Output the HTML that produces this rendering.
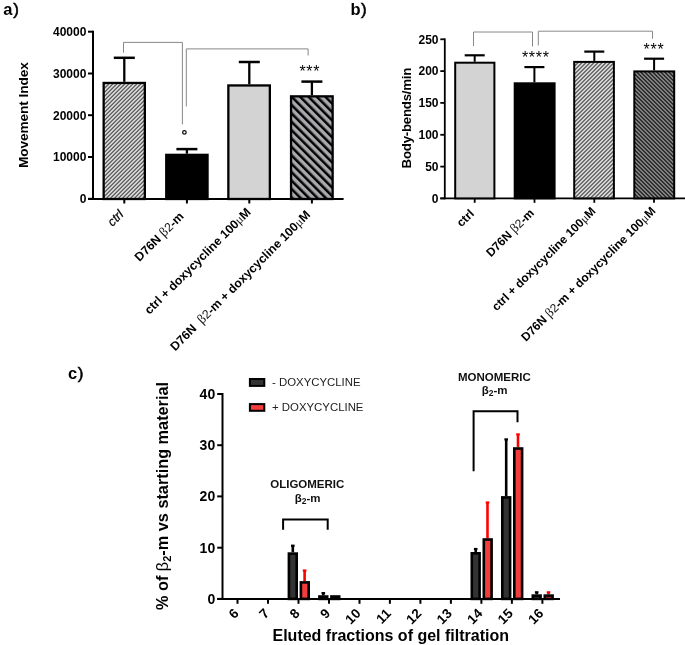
<!DOCTYPE html><html><head><meta charset="utf-8"><style>html,body{margin:0;padding:0;background:#fff;}svg{display:block;will-change:transform;}</style></head><body>
<svg width="685" height="645" viewBox="0 0 685 645" font-family='"Liberation Sans", sans-serif'>
<defs>
<pattern id="hL" patternUnits="userSpaceOnUse" width="2.828" height="10" patternTransform="rotate(45)"><rect width="2.828" height="10" fill="#e2e2e2"/><rect width="1.1" height="10" fill="#363636"/></pattern>
<pattern id="hW" patternUnits="userSpaceOnUse" width="5.94" height="10" patternTransform="rotate(-45)"><rect width="5.94" height="10" fill="#a9a9ad"/><rect width="2.5" height="10" fill="#000"/></pattern>
<pattern id="hD" patternUnits="userSpaceOnUse" width="2.828" height="10" patternTransform="rotate(-45)"><rect width="2.828" height="10" fill="#8c8c8c"/><rect width="1.1" height="10" fill="#000"/></pattern>
</defs>
<rect width="685" height="645" fill="#fff"/>
<text x="3.2" y="14.8" font-size="16.5" font-weight="bold">a<tspan font-weight="normal" font-size="17" dx="0.9" dy="0.5" stroke="#000" stroke-width="0.55">)</tspan></text>
<g stroke="#000" stroke-width="2" fill="none">
<line x1="93" y1="30.7" x2="93" y2="200"/>
<line x1="88" y1="31.7" x2="93" y2="31.7"/>
<line x1="88" y1="73.5" x2="93" y2="73.5"/>
<line x1="88" y1="115.2" x2="93" y2="115.2"/>
<line x1="88" y1="157.0" x2="93" y2="157.0"/>
<line x1="88" y1="198.8" x2="93" y2="198.8"/>
<line x1="88" y1="199" x2="343.6" y2="199"/>
<line x1="124.3" y1="199" x2="124.3" y2="203.5"/>
<line x1="186.9" y1="199" x2="186.9" y2="203.5"/>
<line x1="249.3" y1="199" x2="249.3" y2="203.5"/>
<line x1="311.9" y1="199" x2="311.9" y2="203.5"/>
</g>
<text x="86.4" y="36.0" font-size="12" font-weight="bold" text-anchor="end">40000</text>
<text x="86.4" y="77.8" font-size="12" font-weight="bold" text-anchor="end">30000</text>
<text x="86.4" y="119.5" font-size="12" font-weight="bold" text-anchor="end">20000</text>
<text x="86.4" y="161.3" font-size="12" font-weight="bold" text-anchor="end">10000</text>
<text x="86.4" y="203.1" font-size="12" font-weight="bold" text-anchor="end">0</text>
<text transform="translate(27.9,115.1) rotate(-90)" font-size="13.7" textLength="106" lengthAdjust="spacing" font-weight="bold" text-anchor="middle">Movement Index</text>
<line x1="124.3" y1="81.8" x2="124.3" y2="57.8" stroke="#000" stroke-width="2.3"/>
<line x1="113.8" y1="57.8" x2="134.8" y2="57.8" stroke="#000" stroke-width="2.5"/>
<rect x="103.65" y="82.95" width="41.2" height="116.05" fill="url(#hL)" stroke="#000" stroke-width="2.3"/>
<line x1="186.9" y1="153.7" x2="186.9" y2="149.1" stroke="#000" stroke-width="2.3"/>
<line x1="176.4" y1="149.1" x2="197.4" y2="149.1" stroke="#000" stroke-width="2.5"/>
<rect x="166.25" y="154.85" width="41.3" height="44.15000000000001" fill="#000" stroke="#000" stroke-width="2.3"/>
<line x1="249.3" y1="84.3" x2="249.3" y2="62.0" stroke="#000" stroke-width="2.3"/>
<line x1="238.8" y1="62.0" x2="259.8" y2="62.0" stroke="#000" stroke-width="2.5"/>
<rect x="228.35" y="85.45" width="41.500000000000014" height="113.55" fill="#d3d3d3" stroke="#000" stroke-width="2.3"/>
<line x1="311.9" y1="95.2" x2="311.9" y2="81.6" stroke="#000" stroke-width="2.3"/>
<line x1="301.4" y1="81.6" x2="322.4" y2="81.6" stroke="#000" stroke-width="2.5"/>
<rect x="291.04999999999995" y="96.35000000000001" width="41.60000000000004" height="102.64999999999999" fill="url(#hW)" stroke="#000" stroke-width="2.3"/>
<g stroke="#888" stroke-width="1" fill="none">
<path d="M123.5 52.8 V42.4 H182.4 V124.4"/>
<path d="M186.3 106.5 V48.9 H308.1 V55.5"/>
</g>
<circle cx="184.4" cy="132.4" r="1.75" fill="none" stroke="#111" stroke-width="1.3"/>
<text x="309.8" y="77.4" font-size="16" text-anchor="middle" letter-spacing="0.7">***</text>
<text transform="translate(124.3,215.2) rotate(-45)" font-size="12.6" font-style="italic" stroke="#000" stroke-width="0.2" text-anchor="end">ctrl</text>
<text transform="translate(184.6,217.1) rotate(-45)" font-size="12.3" font-weight="bold" text-anchor="end" >D76N <tspan font-family='"Liberation Serif", serif' font-weight="normal" fill="#111" font-size="1.1em">β</tspan><tspan font-weight="normal" fill="#111">2</tspan>-m</text>
<text transform="translate(251.5,212.9) rotate(-45)" font-size="12.3" font-weight="bold" text-anchor="end" >ctrl + doxycycline 100<tspan font-family='"Liberation Serif", serif' font-weight="normal" fill="#111">μ</tspan>M</text>
<text transform="translate(311.1,215.6) rotate(-45)" font-size="12.3" font-weight="bold" text-anchor="end" >D76N&#160;&#160;<tspan font-family='"Liberation Serif", serif' font-weight="normal" fill="#111" font-size="1.1em">β</tspan><tspan font-weight="normal" fill="#111">2</tspan>-m + doxycycline 100<tspan font-family='"Liberation Serif", serif' font-weight="normal" fill="#111">μ</tspan>M</text>
<text x="350.5" y="14.8" font-size="16.5" font-weight="bold">b<tspan font-weight="normal" font-size="17" dx="0.5" dy="0.5" stroke="#000" stroke-width="0.55">)</tspan></text>
<g stroke="#000" stroke-width="1.8" fill="none">
<line x1="444.8" y1="38.4" x2="444.8" y2="199.3"/>
<line x1="440.3" y1="198.4" x2="444.8" y2="198.4"/>
<line x1="440.3" y1="166.6" x2="444.8" y2="166.6"/>
<line x1="440.3" y1="134.8" x2="444.8" y2="134.8"/>
<line x1="440.3" y1="102.9" x2="444.8" y2="102.9"/>
<line x1="440.3" y1="71.1" x2="444.8" y2="71.1"/>
<line x1="440.3" y1="39.3" x2="444.8" y2="39.3"/>
<line x1="440.3" y1="198.4" x2="685" y2="198.4"/>
<line x1="474.7" y1="198.4" x2="474.7" y2="202.8"/>
<line x1="534.5" y1="198.4" x2="534.5" y2="202.8"/>
<line x1="594.3" y1="198.4" x2="594.3" y2="202.8"/>
<line x1="654.0" y1="198.4" x2="654.0" y2="202.8"/>
</g>
<text x="438.5" y="202.7" font-size="12" font-weight="bold" text-anchor="end">0</text>
<text x="438.5" y="170.9" font-size="12" font-weight="bold" text-anchor="end">50</text>
<text x="438.5" y="139.1" font-size="12" font-weight="bold" text-anchor="end">100</text>
<text x="438.5" y="107.2" font-size="12" font-weight="bold" text-anchor="end">150</text>
<text x="438.5" y="75.4" font-size="12" font-weight="bold" text-anchor="end">200</text>
<text x="438.5" y="43.6" font-size="12" font-weight="bold" text-anchor="end">250</text>
<text transform="translate(411.2,118) rotate(-90)" font-size="13.3" textLength="100.8" lengthAdjust="spacing" font-weight="bold" text-anchor="middle">Body-bends/min</text>
<line x1="474.7" y1="61.7" x2="474.7" y2="55.3" stroke="#000" stroke-width="2"/>
<line x1="464.7" y1="55.3" x2="484.7" y2="55.3" stroke="#000" stroke-width="2.2"/>
<rect x="455.2" y="62.7" width="39.19999999999999" height="135.7" fill="#d3d3d3" stroke="#000" stroke-width="2"/>
<line x1="534.4" y1="82.3" x2="534.4" y2="67.1" stroke="#000" stroke-width="2"/>
<line x1="524.4" y1="67.1" x2="544.4" y2="67.1" stroke="#000" stroke-width="2.2"/>
<rect x="514.7" y="83.3" width="39.89999999999998" height="115.10000000000001" fill="#000" stroke="#000" stroke-width="2"/>
<line x1="594.3" y1="60.9" x2="594.3" y2="51.6" stroke="#000" stroke-width="2"/>
<line x1="584.3" y1="51.6" x2="604.3" y2="51.6" stroke="#000" stroke-width="2.2"/>
<rect x="574.2" y="61.9" width="39.69999999999993" height="136.5" fill="url(#hL)" stroke="#000" stroke-width="2"/>
<line x1="654.1" y1="70.4" x2="654.1" y2="58.7" stroke="#000" stroke-width="2"/>
<line x1="644.1" y1="58.7" x2="664.1" y2="58.7" stroke="#000" stroke-width="2.2"/>
<rect x="634.3" y="71.4" width="39.90000000000009" height="127.0" fill="url(#hD)" stroke="#000" stroke-width="2"/>
<g stroke="#888" stroke-width="1" fill="none">
<path d="M473.5 46 V32 H532.5 V46.5"/>
<path d="M538.3 45.5 V31.2 H652.5 V38.8"/>
</g>
<text x="535.8" y="63.3" font-size="16" text-anchor="middle" letter-spacing="0.7">****</text>
<text x="654" y="55" font-size="16" text-anchor="middle" letter-spacing="0.7">***</text>
<text transform="translate(474.8,214.4) rotate(-45)" font-size="12" font-weight="bold" text-anchor="end">ctrl</text>
<text transform="translate(534.8,213.6) rotate(-45)" font-size="12" font-weight="bold" text-anchor="end">D76N <tspan font-family='"Liberation Serif", serif' font-weight="normal" fill="#111" font-size="1.1em">β</tspan><tspan font-weight="normal" fill="#111">2</tspan>-m</text>
<text transform="translate(596.4,212.0) rotate(-45)" font-size="12" font-weight="bold" text-anchor="end">ctrl + doxycycline 100<tspan font-family='"Liberation Serif", serif' font-weight="normal" fill="#111">μ</tspan>M</text>
<text transform="translate(656.3,211.8) rotate(-45)" font-size="12" font-weight="bold" text-anchor="end">D76N <tspan font-family='"Liberation Serif", serif' font-weight="normal" fill="#111" font-size="1.1em">β</tspan><tspan font-weight="normal" fill="#111">2</tspan>-m + doxycycline 100<tspan font-family='"Liberation Serif", serif' font-weight="normal" fill="#111">μ</tspan>M</text>
<text x="68" y="378.6" font-size="16.5" font-weight="bold">c<tspan font-weight="normal" font-size="17" dx="0.6" dy="0.2" stroke="#000" stroke-width="0.55">)</tspan></text>
<g stroke="#000" stroke-width="2" fill="none">
<line x1="222.5" y1="393.0" x2="222.5" y2="599.9"/>
<line x1="217.2" y1="598.9" x2="222.5" y2="598.9"/>
<line x1="217.2" y1="547.7" x2="222.5" y2="547.7"/>
<line x1="217.2" y1="496.4" x2="222.5" y2="496.4"/>
<line x1="217.2" y1="445.2" x2="222.5" y2="445.2"/>
<line x1="217.2" y1="394.0" x2="222.5" y2="394.0"/>
<line x1="217.2" y1="598.9" x2="560" y2="598.9"/>
<line x1="237.5" y1="598.9" x2="237.5" y2="603.8"/>
<line x1="268.0" y1="598.9" x2="268.0" y2="603.8"/>
<line x1="298.5" y1="598.9" x2="298.5" y2="603.8"/>
<line x1="329.0" y1="598.9" x2="329.0" y2="603.8"/>
<line x1="359.5" y1="598.9" x2="359.5" y2="603.8"/>
<line x1="389.9" y1="598.9" x2="389.9" y2="603.8"/>
<line x1="420.4" y1="598.9" x2="420.4" y2="603.8"/>
<line x1="450.9" y1="598.9" x2="450.9" y2="603.8"/>
<line x1="481.4" y1="598.9" x2="481.4" y2="603.8"/>
<line x1="511.9" y1="598.9" x2="511.9" y2="603.8"/>
<line x1="542.4" y1="598.9" x2="542.4" y2="603.8"/>
</g>
<text x="215.2" y="603.9" font-size="14" font-weight="bold" text-anchor="end">0</text>
<text x="215.2" y="552.7" font-size="14" font-weight="bold" text-anchor="end">10</text>
<text x="215.2" y="501.4" font-size="14" font-weight="bold" text-anchor="end">20</text>
<text x="215.2" y="450.2" font-size="14" font-weight="bold" text-anchor="end">30</text>
<text x="215.2" y="399.0" font-size="14" font-weight="bold" text-anchor="end">40</text>
<text transform="translate(239.5,614.3) rotate(-45)" font-size="13.5" font-weight="bold" text-anchor="end">6</text>
<text transform="translate(270.0,614.3) rotate(-45)" font-size="13.5" font-weight="bold" text-anchor="end">7</text>
<text transform="translate(300.5,614.3) rotate(-45)" font-size="13.5" font-weight="bold" text-anchor="end">8</text>
<text transform="translate(331.0,614.3) rotate(-45)" font-size="13.5" font-weight="bold" text-anchor="end">9</text>
<text transform="translate(361.5,614.3) rotate(-45)" font-size="13.5" font-weight="bold" text-anchor="end">10</text>
<text transform="translate(391.9,614.3) rotate(-45)" font-size="13.5" font-weight="bold" text-anchor="end">11</text>
<text transform="translate(422.4,614.3) rotate(-45)" font-size="13.5" font-weight="bold" text-anchor="end">12</text>
<text transform="translate(452.9,614.3) rotate(-45)" font-size="13.5" font-weight="bold" text-anchor="end">13</text>
<text transform="translate(483.4,614.3) rotate(-45)" font-size="13.5" font-weight="bold" text-anchor="end">14</text>
<text transform="translate(513.9,614.3) rotate(-45)" font-size="13.5" font-weight="bold" text-anchor="end">15</text>
<text transform="translate(544.4,614.3) rotate(-45)" font-size="13.5" font-weight="bold" text-anchor="end">16</text>
<text x="272.5" y="640.7" font-size="16" font-weight="bold">Eluted fractions of gel filtration</text>
<text transform="translate(167.5,496) rotate(-90)" font-size="16.3" font-weight="bold" text-anchor="middle">% of <tspan font-weight="normal" font-size="16.3">β</tspan><tspan font-size="11" dy="3">2</tspan><tspan dy="-3">-m vs starting material</tspan></text>
<line x1="292.8" y1="552.3" x2="292.8" y2="545.6" stroke="#000" stroke-width="2.6"/>
<rect x="291.0" y="544.6" width="3.6" height="2.2" fill="#000"/>
<line x1="304.6" y1="581.1" x2="304.6" y2="570.4" stroke="#f00" stroke-width="2.6"/>
<rect x="302.8" y="569.4" width="3.6" height="2.2" fill="#f00"/>
<rect x="288.9" y="553.5999999999999" width="7.8" height="45.3" fill="#333" stroke="#000" stroke-width="2.6"/>
<rect x="300.9" y="582.4" width="7.8" height="16.5" fill="#f33c3c" stroke="#000" stroke-width="2.6"/>
<line x1="323.3" y1="595.2" x2="323.3" y2="593.0" stroke="#000" stroke-width="2.6"/>
<rect x="321.5" y="592.0" width="3.6" height="2.2" fill="#000"/>
<rect x="319.4" y="596.5" width="7.8" height="2.4" fill="#333" stroke="#000" stroke-width="2.6"/>
<rect x="331.4" y="596.5" width="7.8" height="2.4" fill="#f33c3c" stroke="#000" stroke-width="2.6"/>
<line x1="475.7" y1="552.0" x2="475.7" y2="548.9" stroke="#000" stroke-width="2.6"/>
<rect x="473.9" y="547.9" width="3.6" height="2.2" fill="#000"/>
<line x1="487.5" y1="538.2" x2="487.5" y2="502.4" stroke="#f00" stroke-width="2.6"/>
<rect x="485.7" y="501.4" width="3.6" height="2.2" fill="#f00"/>
<rect x="471.8" y="553.3" width="7.8" height="45.6" fill="#333" stroke="#000" stroke-width="2.6"/>
<rect x="483.8" y="539.5" width="7.8" height="59.4" fill="#f33c3c" stroke="#000" stroke-width="2.6"/>
<line x1="506.2" y1="496.1" x2="506.2" y2="439.3" stroke="#000" stroke-width="2.6"/>
<rect x="504.4" y="438.3" width="3.6" height="2.2" fill="#000"/>
<line x1="518.0" y1="447.2" x2="518.0" y2="434.3" stroke="#f00" stroke-width="2.6"/>
<rect x="516.2" y="433.3" width="3.6" height="2.2" fill="#f00"/>
<rect x="502.3" y="497.40000000000003" width="7.8" height="101.5" fill="#333" stroke="#000" stroke-width="2.6"/>
<rect x="514.3" y="448.5" width="7.8" height="150.4" fill="#f33c3c" stroke="#000" stroke-width="2.6"/>
<line x1="536.7" y1="594.3" x2="536.7" y2="592.2" stroke="#000" stroke-width="2.6"/>
<rect x="534.9" y="591.2" width="3.6" height="2.2" fill="#000"/>
<line x1="548.5" y1="594.3" x2="548.5" y2="592.2" stroke="#f00" stroke-width="2.6"/>
<rect x="546.7" y="591.2" width="3.6" height="2.2" fill="#f00"/>
<rect x="532.8" y="595.5999999999999" width="7.8" height="3.3" fill="#333" stroke="#000" stroke-width="2.6"/>
<rect x="544.8" y="595.5999999999999" width="7.8" height="3.3" fill="#f33c3c" stroke="#000" stroke-width="2.6"/>
<path d="M283.1 529.7 V519.4 H327.7 V529.7" stroke="#000" stroke-width="2" fill="none"/>
<path d="M473.6 471.2 V411.2 H517.5 V422.2" stroke="#000" stroke-width="2" fill="none"/>
<text x="307.3" y="488.2" font-size="11.5" font-weight="bold" text-anchor="middle" fill="#111">OLIGOMERIC</text>
<text x="307.6" y="501.7" font-size="11.5" font-weight="bold" text-anchor="middle" fill="#111">β<tspan font-size="8.5" dy="2">2</tspan><tspan dy="-2">-m</tspan></text>
<text x="494.4" y="380.6" font-size="11.5" font-weight="bold" text-anchor="middle" fill="#111">MONOMERIC</text>
<text x="494.6" y="394.4" font-size="11.5" font-weight="bold" text-anchor="middle" fill="#111">β<tspan font-size="8.5" dy="2">2</tspan><tspan dy="-2">-m</tspan></text>
<rect x="249.9" y="379" width="14.4" height="6.9" fill="#333" stroke="#000" stroke-width="2"/>
<rect x="249.9" y="404.1" width="14.4" height="6.7" fill="#f33c3c" stroke="#000" stroke-width="2"/>
<text x="272" y="386.4" font-size="11.4" fill="#222">- DOXYCYCLINE</text>
<text x="272" y="410.9" font-size="11.4" fill="#222">+ DOXYCYCLINE</text>
</svg></body></html>
